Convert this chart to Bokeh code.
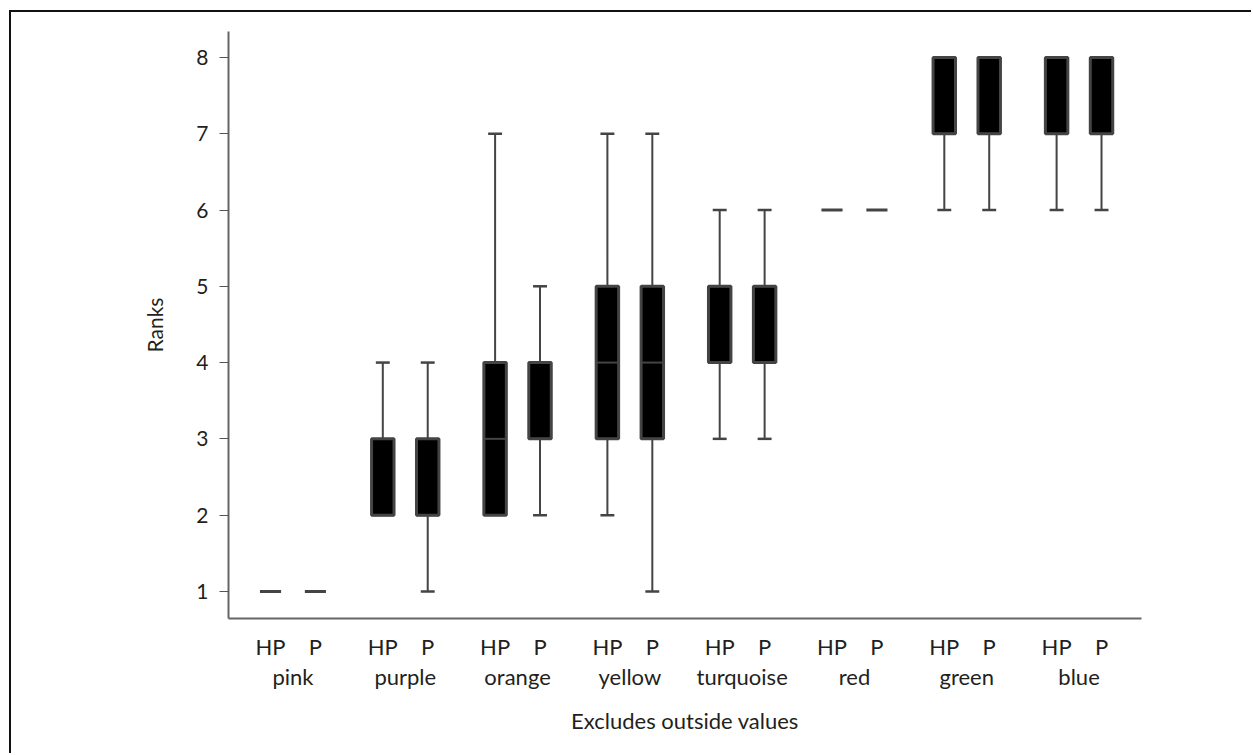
from bokeh.plotting import figure
from bokeh.models import LinearAxis, FixedTicker, Range1d
from bokeh.embed import file_html
from bokeh.resources import INLINE

groups = ["pink", "purple", "orange", "yellow", "turquoise", "red", "green", "blue"]
series = ["HP", "P"]

hp_min = [1, 2, 2, 2, 3, 6, 6, 6]
hp_q1 = [1, 2, 2, 3, 4, 6, 7, 7]
hp_med = [1, 2, 3, 4, 5, 6, 7, 8]
hp_q3 = [1, 3, 4, 5, 5, 6, 8, 8]
hp_max = [1, 4, 7, 7, 6, 6, 8, 8]

p_min = [1, 1, 2, 1, 3, 6, 6, 6]
p_q1 = [1, 2, 3, 3, 4, 6, 7, 7]
p_med = [1, 2, 3, 4, 5, 6, 7, 8]
p_q3 = [1, 3, 4, 5, 5, 6, 8, 8]
p_max = [1, 4, 5, 7, 6, 6, 8, 8]

y_ticks = [1, 2, 3, 4, 5, 6, 7, 8]

FONT = "Lato"
FS = "21px"
FSX = "22px"
TXT = "#231f20"
GRAY = "#444444"

GROUP_STEP = 5
OFFSET = {"HP": 0, "P": 2}
BOX_W = 1.0
CAP_W = 0.62
DASH_W = 0.94

rows = []
for i, g in enumerate(groups):
    for s, mn, q1, md, q3, mx in (("HP", hp_min, hp_q1, hp_med, hp_q3, hp_max),
                                   ("P", p_min, p_q1, p_med, p_q3, p_max)):
        rows.append(dict(x=i * GROUP_STEP + OFFSET[s], mn=mn[i], q1=q1[i], md=md[i], q3=q3[i], mx=mx[i]))

box = [r for r in rows if r["q3"] > r["q1"]]
flat = [r for r in rows if r["q3"] == r["q1"]]
upper = [r for r in rows if r["mx"] > r["q3"]]
lower = [r for r in rows if r["mn"] < r["q1"]]

p = figure(width=1242, height=743, output_backend="svg", toolbar_location=None,
           x_range=Range1d(-1.87, 38.78), y_range=Range1d(0.645, 8.34),
           min_border_left=217, min_border_right=112, min_border_top=19, min_border_bottom=137,
           x_axis_type=None, y_axis_type=None)
p.margin = (10, 0, 0, 9)
p.styles = {"border-left": "2px solid #111111", "border-top": "2px solid #111111"}
p.grid.visible = False
p.outline_line_color = None

# whiskers
p.segment(x0=[r["x"] for r in upper], y0=[r["q3"] for r in upper],
          x1=[r["x"] for r in upper], y1=[r["mx"] for r in upper], line_color=GRAY, line_width=2)
p.segment(x0=[r["x"] - CAP_W / 2 for r in upper], y0=[r["mx"] for r in upper],
          x1=[r["x"] + CAP_W / 2 for r in upper], y1=[r["mx"] for r in upper], line_color=GRAY, line_width=2.5)
p.segment(x0=[r["x"] for r in lower], y0=[r["q1"] for r in lower],
          x1=[r["x"] for r in lower], y1=[r["mn"] for r in lower], line_color=GRAY, line_width=2)
p.segment(x0=[r["x"] - CAP_W / 2 for r in lower], y0=[r["mn"] for r in lower],
          x1=[r["x"] + CAP_W / 2 for r in lower], y1=[r["mn"] for r in lower], line_color=GRAY, line_width=2.5)

# boxes
p.vbar(x=[r["x"] for r in box], width=BOX_W, bottom=[r["q1"] for r in box], top=[r["q3"] for r in box],
       fill_color="black", line_color=GRAY, line_width=3)
# medians
p.segment(x0=[r["x"] - BOX_W / 2 for r in box], y0=[r["md"] for r in box],
          x1=[r["x"] + BOX_W / 2 for r in box], y1=[r["md"] for r in box], line_color=GRAY, line_width=2)
# degenerate boxes
p.segment(x0=[r["x"] - DASH_W / 2 for r in flat], y0=[r["md"] for r in flat],
          x1=[r["x"] + DASH_W / 2 for r in flat], y1=[r["md"] for r in flat], line_color=GRAY, line_width=3)

# y axis
yax = LinearAxis(ticker=FixedTicker(ticks=y_ticks), axis_label="Ranks")
yax.axis_line_color = "#666666"
yax.axis_line_width = 2
yax.major_tick_in = 0
yax.major_tick_out = 9
yax.major_tick_line_color = "#555555"
yax.major_tick_line_width = 1
yax.minor_tick_line_color = None
yax.major_label_text_font = FONT
yax.major_label_text_font_size = FS
yax.major_label_text_color = TXT
yax.major_label_standoff = 11
yax.axis_label_text_font = FONT
yax.axis_label_text_font_size = FS
yax.axis_label_text_font_style = "normal"
yax.axis_label_text_color = TXT
yax.axis_label_standoff = 26
p.add_layout(yax, "left")

# x axis: series labels
ticks = []
overrides = {}
for i in range(len(groups)):
    for s in series:
        t = i * GROUP_STEP + OFFSET[s]
        ticks.append(t)
        overrides[t] = s
xax = LinearAxis(ticker=FixedTicker(ticks=ticks), major_label_overrides=overrides)
xax.axis_line_color = "#666666"
xax.axis_line_width = 2
xax.major_tick_in = 0
xax.major_tick_out = 0
xax.minor_tick_line_color = None
xax.major_label_text_font = FONT
xax.major_label_text_font_size = FSX
xax.major_label_text_color = TXT
xax.major_label_standoff = 14
p.add_layout(xax, "below")

# x axis: group labels
gticks = [i * GROUP_STEP + 1 for i in range(len(groups))]
gax = LinearAxis(ticker=FixedTicker(ticks=gticks),
                 major_label_overrides={t: g for t, g in zip(gticks, groups)},
                 axis_label="Excludes outside values")
gax.axis_line_color = None
gax.major_tick_line_color = None
gax.minor_tick_line_color = None
gax.major_tick_out = 0
gax.major_tick_in = 0
gax.major_label_text_font = FONT
gax.major_label_text_font_size = FSX
gax.major_label_text_color = TXT
gax.major_label_standoff = 0
gax.axis_label_text_font = FONT
gax.axis_label_text_font_size = FSX
gax.axis_label_text_font_style = "normal"
gax.axis_label_text_color = TXT
gax.axis_label_standoff = 14
p.add_layout(gax, "below")

open("out.html", "w").write(file_html(p, INLINE))
